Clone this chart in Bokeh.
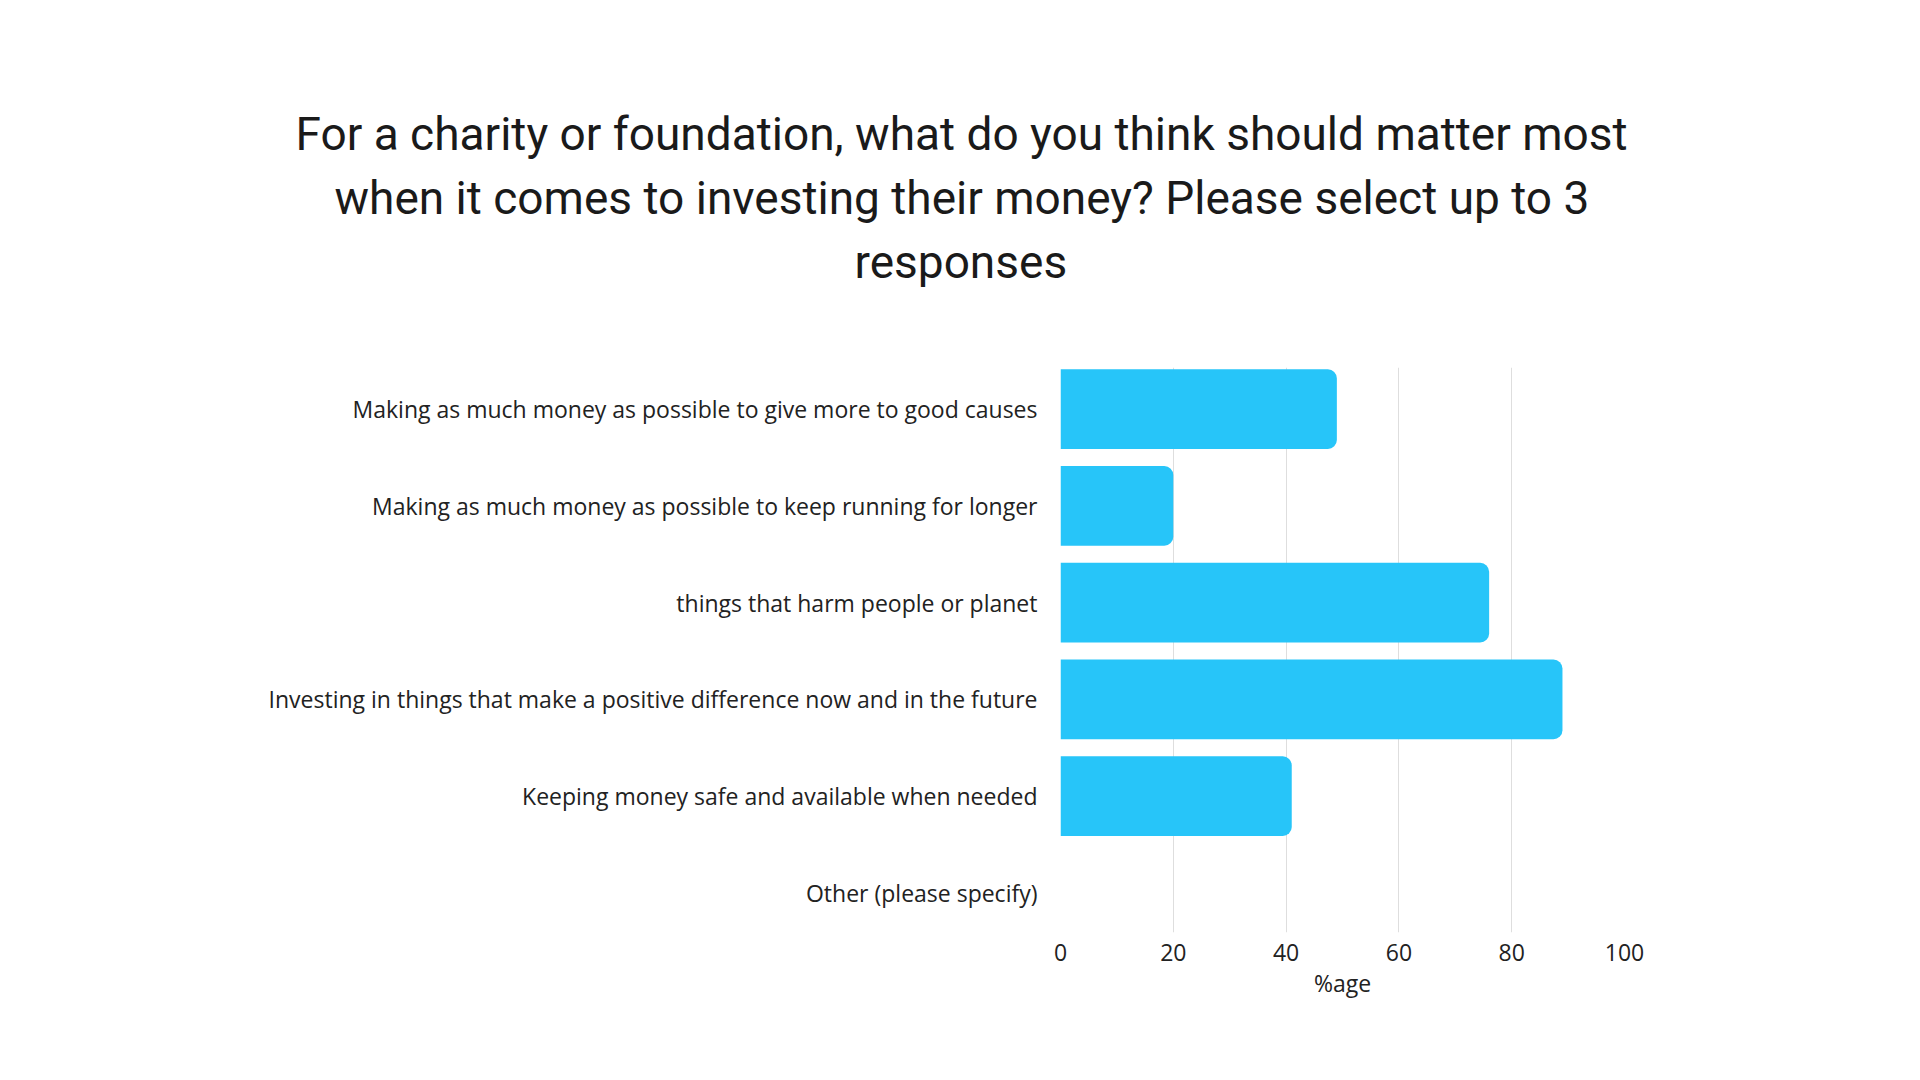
from bokeh.plotting import figure
from bokeh.models import Range1d, FixedTicker, ColumnDataSource, Title
from bokeh.embed import file_html
from bokeh.resources import INLINE

categories = [
    "Making as much money as possible to give more to good causes",
    "Making as much money as possible to keep running for longer",
    "things that harm people or planet",
    "Investing in things that make a positive difference now and in the future",
    "Keeping money safe and available when needed",
    "Other (please specify)",
]
values = [49, 20, 76, 89, 41, 0]
x_ticks = [0, 20, 40, 60, 80, 100]
title_lines = [
    "For a charity or foundation, what do you think should matter most",
    "when it comes to investing their money? Please select up to 3",
    "responses",
]

positions = list(range(len(categories)))
src = ColumnDataSource(dict(y=positions, v=values))

W, H = 1920, 1080
FL, FR, FT, FB = 1060, 296, 367, 148

p = figure(width=W, height=H, x_range=Range1d(0, 100),
           y_range=Range1d(5.41, -0.43), output_backend="svg",
           toolbar_location=None, min_border_left=FL, min_border_right=FR,
           min_border_top=FT, min_border_bottom=FB)
p.outline_line_color = None
p.background_fill_color = "white"
p.border_fill_color = "white"

p.hbar(y="y", right="v", left=0, height=0.823, source=src,
       fill_color="#27C5F9", line_color=None, border_radius=(0, 9, 9, 0))

# Title lines: left-aligned titles shifted so each line sits centred on the page
line_offsets = [-765, -726, -206]


def style_title(t, txt, off, so):
    t.text = txt
    t.align = "left"
    t.offset = off
    t.standoff = so
    t.text_font = "Roboto"
    t.text_font_size = "46px"
    t.text_font_style = "normal"
    t.text_color = "#1a1a1a"


# blank spacer between the frame and the title block
spacer = Title()
style_title(spacer, " ", 0, 19)
p.add_layout(spacer, "above")

# the figure's own title is drawn outermost; added titles stack outward from the frame
style_title(p.title, title_lines[0], line_offsets[0], 8)
for i in (2, 1):
    t = Title()
    style_title(t, title_lines[i], line_offsets[i], 8)
    p.add_layout(t, "above")

xa = p.xaxis[0]
xa.ticker = FixedTicker(ticks=x_ticks)
xa.axis_line_color = None
xa.major_tick_line_color = None
xa.minor_tick_line_color = None
xa.major_label_text_font = "Open Sans"
xa.major_label_text_font_size = "23px"
xa.major_label_text_color = "#222222"
xa.major_label_standoff = 5
xa.axis_label = "%age"
xa.axis_label_text_font = "Open Sans"
xa.axis_label_text_font_size = "23px"
xa.axis_label_text_font_style = "normal"
xa.axis_label_text_color = "#222222"
xa.axis_label_standoff = 3

ya = p.yaxis[0]
ya.ticker = FixedTicker(ticks=positions)
ya.major_label_overrides = {i: c for i, c in zip(positions, categories)}
ya.axis_line_color = None
ya.major_tick_line_color = None
ya.minor_tick_line_color = None
ya.major_label_text_font = "Open Sans"
ya.major_label_text_font_size = "23px"
ya.major_label_text_color = "#222222"
ya.major_label_standoff = 17

p.xgrid.grid_line_color = "#dedede"
p.xgrid.ticker = FixedTicker(ticks=x_ticks)
p.ygrid.grid_line_color = None

open("out.html", "w").write(file_html(p, INLINE))
